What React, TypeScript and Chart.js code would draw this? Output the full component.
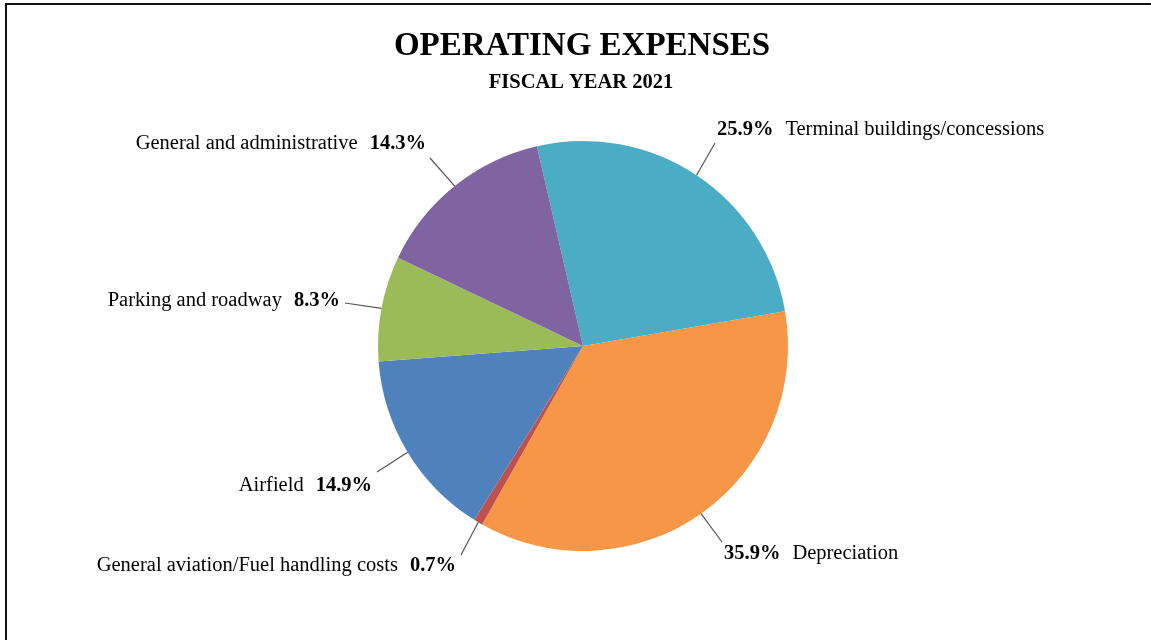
import React, { useEffect, useRef } from "react";
import { Chart, registerables } from "chart.js";

Chart.register(...registerables);

const categories = [
  "Terminal buildings/concessions",
  "Depreciation",
  "General aviation/Fuel handling costs",
  "Airfield",
  "Parking and roadway",
  "General and administrative",
];
const values = [25.9, 35.9, 0.7, 14.9, 8.3, 14.3];
const pctLabels = ["25.9%", "35.9%", "0.7%", "14.9%", "8.3%", "14.3%"];
const colors = ["#4BACC6", "#F79646", "#C0504D", "#4F81BD", "#9BBB59", "#8064A2"];

const TITLE = "OPERATING EXPENSES";
const SUBTITLE = "FISCAL YEAR 2021";

// label layout: line end point, text anchor, alignment (pct first on right side)
const labelLayout = [
  { ex: 715, ey: 143, tx: 717, ty: 130, side: "right" },
  { ex: 722, ey: 542, tx: 724, ty: 554, side: "right" },
  { ex: 461, ey: 555, tx: 456, ty: 566, side: "left" },
  { ex: 377, ey: 472, tx: 372, ty: 486, side: "left" },
  { ex: 345, ey: 303, tx: 340, ty: 301, side: "left" },
  { ex: 430, ey: 158, tx: 426, ty: 144, side: "left" },
];

const SERIF = "'Liberation Serif', 'Times New Roman', serif";

const decorPlugin = {
  id: "decor",
  afterDraw(chart: any) {
    const ctx = chart.ctx as CanvasRenderingContext2D;
    ctx.save();
    // frame
    ctx.fillStyle = "#111";
    ctx.fillRect(5, 3, chart.width - 5, 2);
    ctx.fillRect(5, 3, 2, chart.height - 3);

    // titles
    ctx.fillStyle = "#000";
    ctx.textAlign = "center";
    ctx.textBaseline = "middle";
    ctx.font = `bold 33px ${SERIF}`;
    ctx.fillText(TITLE, 582, 46);
    ctx.font = `bold 20.5px ${SERIF}`;
    ctx.fillText(SUBTITLE, 581, 83);

    // labels + leader lines
    const meta = chart.getDatasetMeta(0);
    const gap = 12;
    meta.data.forEach((arc: any, i: number) => {
      const lay = labelLayout[i];
      const props = arc.getProps(["x", "y", "startAngle", "endAngle", "outerRadius"], true);
      const mid = (props.startAngle + props.endAngle) / 2;
      const sx = props.x + Math.cos(mid) * props.outerRadius;
      const sy = props.y + Math.sin(mid) * props.outerRadius;
      ctx.strokeStyle = "#555";
      ctx.lineWidth = 1.2;
      ctx.beginPath();
      ctx.moveTo(sx, sy);
      ctx.lineTo(lay.ex, lay.ey);
      ctx.stroke();

      ctx.textBaseline = "middle";
      ctx.textAlign = "left";
      ctx.fillStyle = "#000";
      const nameFont = `20.5px ${SERIF}`;
      const pctFont = `bold 20.5px ${SERIF}`;
      ctx.font = nameFont;
      const nw = ctx.measureText(categories[i]).width;
      ctx.font = pctFont;
      const pw = ctx.measureText(pctLabels[i]).width;
      if (lay.side === "right") {
        ctx.font = pctFont;
        ctx.fillText(pctLabels[i], lay.tx, lay.ty);
        ctx.font = nameFont;
        ctx.fillText(categories[i], lay.tx + pw + gap, lay.ty);
      } else {
        const x0 = lay.tx - pw - gap - nw;
        ctx.font = nameFont;
        ctx.fillText(categories[i], x0, lay.ty);
        ctx.font = pctFont;
        ctx.fillText(pctLabels[i], x0 + nw + gap, lay.ty);
      }
    });
    ctx.restore();
  },
};

export default function App() {
  const ref = useRef<HTMLCanvasElement | null>(null);
  useEffect(() => {
    if (!ref.current) return;
    const chart = new Chart(ref.current, {
      type: "pie",
      data: {
        labels: categories,
        datasets: [
          {
            data: values,
            backgroundColor: colors,
            borderWidth: 0,
          },
        ],
      },
      options: {
        animation: false,
        responsive: false,
        rotation: -13,
        layout: { padding: { top: 141, bottom: 89, left: 378, right: 363 } },
        plugins: {
          legend: { display: false },
          tooltip: { enabled: false },
          title: { display: false },
        },
        events: [],
      },
      plugins: [decorPlugin],
    });
    return () => chart.destroy();
  }, []);
  return (
    <div style={{ position: "fixed", left: 0, top: 0, width: 1151, height: 640, background: "#fff" }}>
      <canvas ref={ref} width={1151} height={640} style={{ display: "block" }} />
    </div>
  );
}
